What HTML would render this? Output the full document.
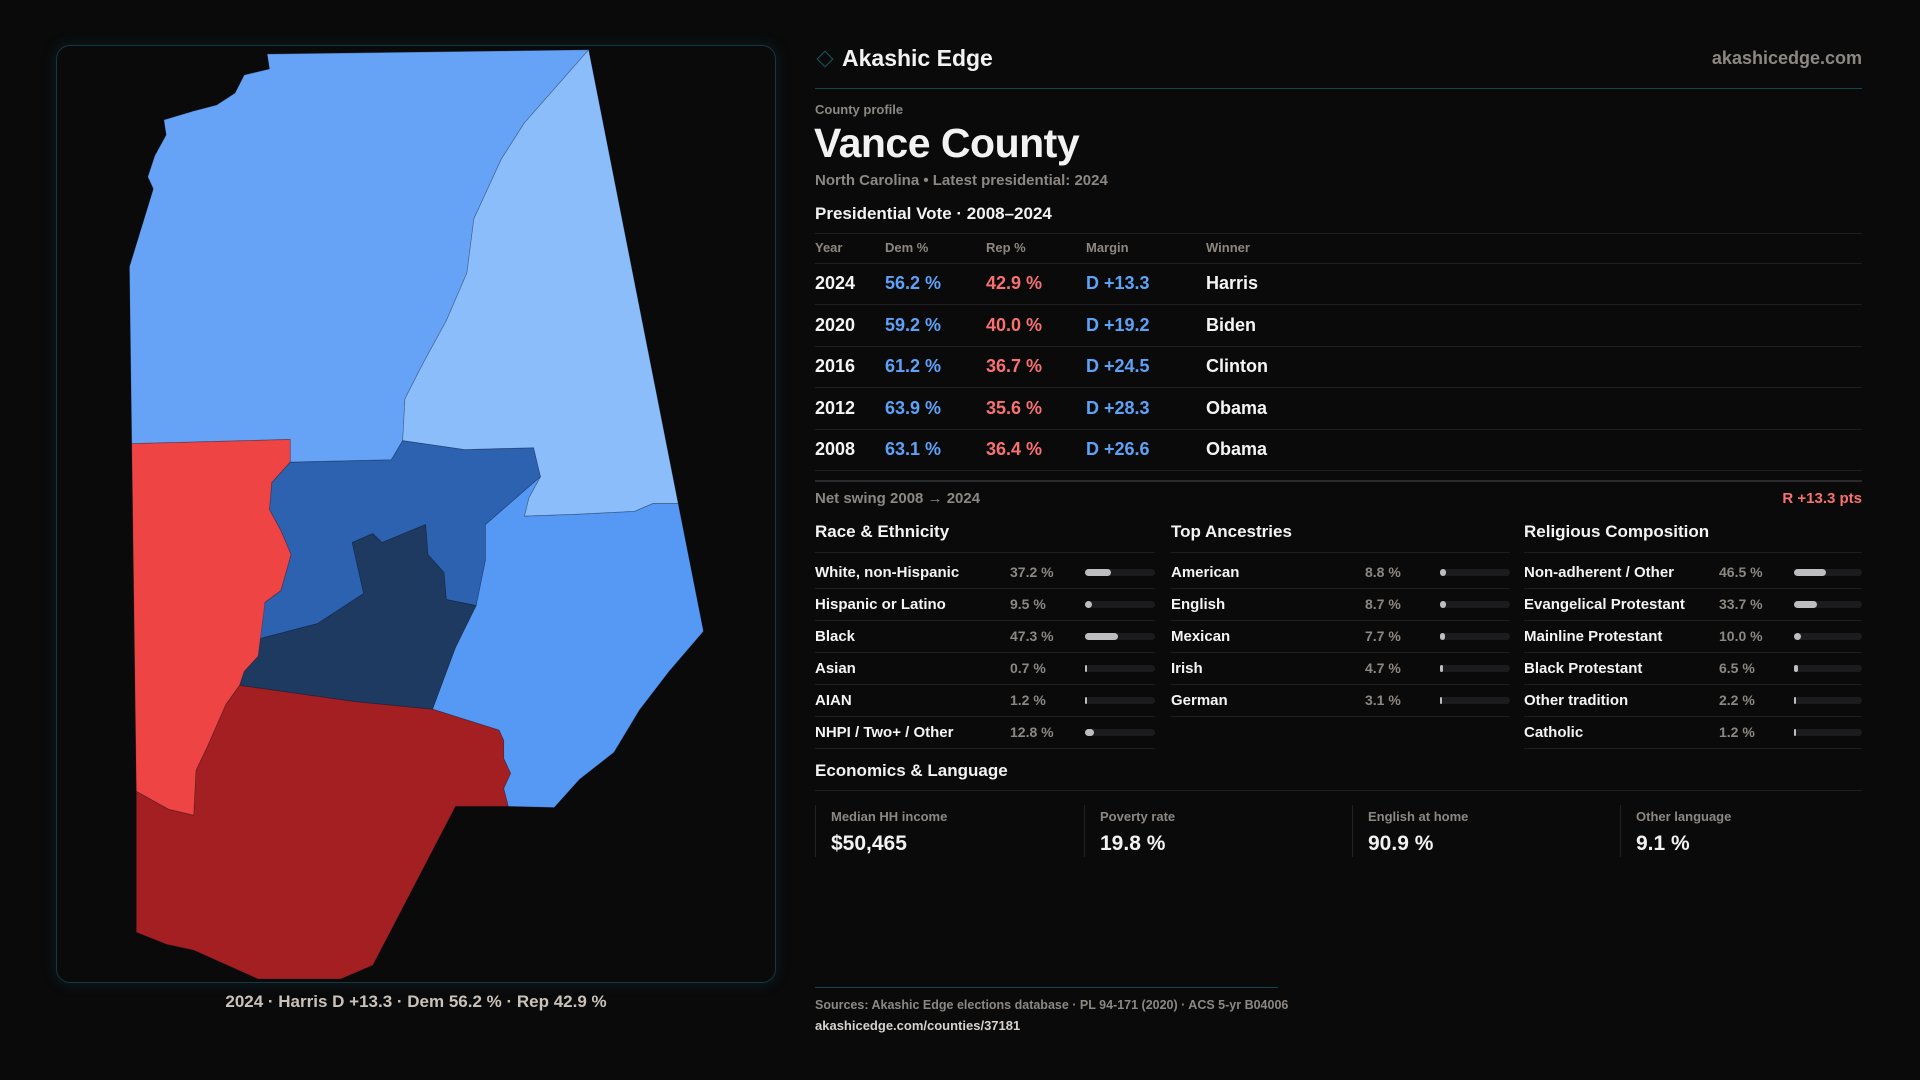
<!DOCTYPE html>
<html><head><meta charset="utf-8"><style>
*{margin:0;padding:0;box-sizing:border-box}
body{width:1920px;height:1080px;background:#0a0a0b;font-family:"Liberation Sans",sans-serif;color:#f2f2f2;position:relative;overflow:hidden}
.a{position:absolute;white-space:nowrap}
.g{color:#8c8782}
.ln{position:absolute;height:1px;background:#1f1f22}
.card{position:absolute;top:805px;height:52px;border-left:1px solid #222226}
</style></head><body>
<div class="a" style="left:56px;top:45px;width:720px;height:938px;border:1px solid #123a44;border-radius:14px;box-shadow:0 0 14px rgba(20,90,110,0.25)"></div>
<svg class="a" style="left:56px;top:45px" width="720" height="940" viewBox="0 0 1568 1568" preserveAspectRatio="none">
<g stroke="rgba(10,20,40,0.3)" stroke-width="1.5" stroke-linejoin="round">
<polygon fill="#66a3f6" points="460,15 1160,8 1020,130 970,190 910,290 895,380 850,460 800,530 760,590 755,660 730,692 510,696 510,658 165,665 160,370 212,240 200,220 215,185 240,150 235,125 300,110 350,100 390,80 410,50 465,40"/>
<polygon fill="#8abdf9" points="1160,8 1355,765 1300,765 1260,778 1130,783 1020,786 1030,755 1055,720 1040,672 890,675 755,660 760,590 800,530 850,460 895,380 910,290 970,190 1020,130"/>
<polygon fill="#5699f5" points="1355,765 1410,978 1335,1045 1270,1110 1215,1180 1140,1225 1085,1272 985,1270 975,1240 990,1215 975,1190 975,1160 965,1143 820,1108 870,1005 915,935 935,860 935,800 1055,720 1030,755 1020,786 1130,783 1260,778 1300,765"/>
<polygon fill="#ef4444" points="165,665 510,658 510,696 470,730 465,775 490,810 512,850 490,910 455,930 455,985 440,1020 410,1045 400,1068 370,1100 330,1170 305,1210 300,1285 245,1275 175,1245"/>
<polygon fill="#a31f22" points="400,1068 650,1095 820,1108 965,1143 975,1160 975,1190 990,1215 975,1240 985,1270 870,1270 690,1535 620,1558 440,1558 300,1510 240,1500 175,1480 175,1245 245,1275 300,1285 305,1210 330,1170 370,1100"/>
<polygon fill="#2d62b0" points="510,696 730,692 755,660 890,675 1040,672 1055,720 935,800 935,860 915,935 850,925 845,880 810,850 805,800 710,830 690,815 645,830 670,915 570,965 445,990 455,930 490,910 512,850 490,810 465,775 470,730"/>
<polygon fill="#1e3a60" points="445,990 570,965 670,915 645,830 690,815 710,830 805,800 810,850 845,880 850,925 915,935 870,1005 820,1108 650,1095 400,1068 410,1045 440,1020"/>
</g></svg>
<div class="a" style="left:56px;width:720px;text-align:center;top:992px;font-size:17px;font-weight:bold;color:#c9c2bb">2024 · Harris D +13.3 · Dem 56.2 % · Rep 42.9 %</div>

<div class="a" style="left:819px;top:53px;width:12px;height:12px;border:1.5px solid #135a66;transform:rotate(45deg)"></div>
<div class="a" style="left:842px;top:45px;font-size:23px;font-weight:bold">Akashic Edge</div>
<div class="a g" style="right:58px;top:48px;font-size:18px;font-weight:bold">akashicedge.com</div>
<div class="a" style="left:815px;top:88px;width:1047px;height:1px;background:#0f4650"></div>
<div class="a g" style="left:815px;top:102px;font-size:13px;font-weight:bold">County profile</div>
<div class="a" style="left:814px;top:120px;font-size:41px;font-weight:bold;letter-spacing:-0.5px">Vance County</div>
<div class="a g" style="left:815px;top:172px;font-size:15px;font-weight:bold">North Carolina • Latest presidential: 2024</div>
<div class="a" style="left:815px;top:204px;font-size:17px;font-weight:bold">Presidential Vote · 2008–2024</div>
<div class="ln" style="left:815px;top:233px;width:1047px"></div>
<div id="tbl"></div>
<div class="a" style="left:815px;top:480px;width:1047px;height:2px;background:#2a2a2d"></div>
<div class="a g" style="left:815px;top:490px;font-size:15px;font-weight:bold">Net swing 2008 → 2024</div>
<div class="a" style="right:58px;top:490px;font-size:15px;font-weight:bold;color:#f87171">R +13.3 pts</div>
<div id="groups"></div>
<div class="a" style="left:815px;top:761px;font-size:17px;font-weight:bold">Economics &amp; Language</div>
<div class="ln" style="left:815px;top:790px;width:1047px"></div>
<div class="card" style="left:815px"><div class="a g" style="left:15px;top:4px;font-size:13px;font-weight:bold">Median HH income</div><div class="a" style="left:15px;top:27px;font-size:21px;font-weight:bold">$50,465</div></div>
<div class="card" style="left:1084px"><div class="a g" style="left:15px;top:4px;font-size:13px;font-weight:bold">Poverty rate</div><div class="a" style="left:15px;top:27px;font-size:21px;font-weight:bold">19.8 %</div></div>
<div class="card" style="left:1352px"><div class="a g" style="left:15px;top:4px;font-size:13px;font-weight:bold">English at home</div><div class="a" style="left:15px;top:27px;font-size:21px;font-weight:bold">90.9 %</div></div>
<div class="card" style="left:1620px"><div class="a g" style="left:15px;top:4px;font-size:13px;font-weight:bold">Other language</div><div class="a" style="left:15px;top:27px;font-size:21px;font-weight:bold">9.1 %</div></div>
<div class="a" style="left:815px;top:987px;width:463px;height:1px;background:#0f4650"></div>
<div class="a g" style="left:815px;top:998px;font-size:12.5px;font-weight:bold">Sources: Akashic Edge elections database · PL 94-171 (2020) · ACS 5-yr B04006</div>
<div class="a" style="left:815px;top:1018px;font-size:13px;font-weight:bold;color:#d8d2cc">akashicedge.com/counties/37181</div>
<script>
const years=["2024","2020","2016","2012","2008"];
const demPct=[56.2,59.2,61.2,63.9,63.1];
const repPct=[42.9,40.0,36.7,35.6,36.4];
const margins=["D +13.3","D +19.2","D +24.5","D +28.3","D +26.6"];
const winners=["Harris","Biden","Clinton","Obama","Obama"];
const raceLabels=["White, non-Hispanic","Hispanic or Latino","Black","Asian","AIAN","NHPI / Two+ / Other"];
const raceValues=[37.2,9.5,47.3,0.7,1.2,12.8];
const ancLabels=["American","English","Mexican","Irish","German"];
const ancValues=[8.8,8.7,7.7,4.7,3.1];
const relLabels=["Non-adherent / Other","Evangelical Protestant","Mainline Protestant","Black Protestant","Other tradition","Catholic"];
const relValues=[46.5,33.7,10.0,6.5,2.2,1.2];

function txt(p,x,y,s,size,color,w){const d=document.createElement('div');d.className='a';d.style.left=x+'px';d.style.top=y+'px';d.style.fontSize=size+'px';d.style.fontWeight=w||'bold';d.style.color=color;d.textContent=s;p.appendChild(d);return d;}
const tbl=document.getElementById('tbl');
const cols=[815,885,986,1086,1206];
["Year","Dem %","Rep %","Margin","Winner"].forEach((h,i)=>{const d=txt(tbl,cols[i],240,h,13,'#8c8782');

});
const hl=document.createElement('div');hl.className='ln';hl.style.cssText='left:815px;top:263px;width:1047px';tbl.appendChild(hl);
years.forEach((y,i)=>{const cy=283+41.6*i;const t=cy-10;
const r=document.createElement('div');


tbl.appendChild(r);
txt(r,cols[0],t,y,18,'#f4f4f4');
txt(r,cols[1],t,demPct[i].toFixed(1)+' %',18,'#5ea2f8');
txt(r,cols[2],t,repPct[i].toFixed(1)+' %',18,'#f87171');
const dm=margins[i].charAt(0)==='D';
txt(r,cols[3],t,margins[i],18,dm?'#5ea2f8':'#f87171');
txt(r,cols[4],t,winners[i],18,'#f4f4f4');
const l=document.createElement('div');l.className='ln';l.style.cssText='left:815px;width:1047px;top:'+Math.round(cy+21)+'px';r.appendChild(l);});
const gp=document.getElementById('groups');
const groups=[
 {name:'race-ethnicity',title:'Race & Ethnicity',labels:raceLabels,vals:raceValues,x:815,px:1010,bx:1085,bw:70,w:340},
 {name:'top-ancestries',title:'Top Ancestries',labels:ancLabels,vals:ancValues,x:1171,px:1365,bx:1440,bw:70,w:339},
 {name:'religious-composition',title:'Religious Composition',labels:relLabels,vals:relValues,x:1524,px:1719,bx:1794,bw:68,w:338}];
groups.forEach(g=>{
 const sec=document.createElement('div');
 
 
 gp.appendChild(sec);
 txt(sec,g.x,522,g.title,17,'#f4f4f4');
 const l0=document.createElement('div');l0.className='ln';l0.style.cssText='left:'+g.x+'px;top:552px;width:'+g.w+'px';sec.appendChild(l0);
 g.labels.forEach((lab,i)=>{const cy=572+32*i;
  const row=document.createElement('div');
  
  
  sec.appendChild(row);
  txt(row,g.x,cy-8,lab,15,'#f4f4f4');
  txt(row,g.px,cy-8,g.vals[i].toFixed(1)+' %',14,'#8c8782');
  const tr=document.createElement('div');tr.className='a';tr.style.cssText='left:'+g.bx+'px;top:'+(cy-3)+'px;width:'+g.bw+'px;height:7px;border-radius:4px;background:#1c1c1f';row.appendChild(tr);
  const f=document.createElement('div');
  
  
  f.className='a';f.style.cssText='left:0;top:0;height:7px;border-radius:4px;background:#bdbdbf;width:'+Math.max(2,g.vals[i]/100*g.bw)+'px';tr.appendChild(f);
  const l=document.createElement('div');l.className='ln';l.style.cssText='left:'+g.x+'px;top:'+(cy+16)+'px;width:'+g.w+'px';row.appendChild(l);});
});
</script>
</body></html>
